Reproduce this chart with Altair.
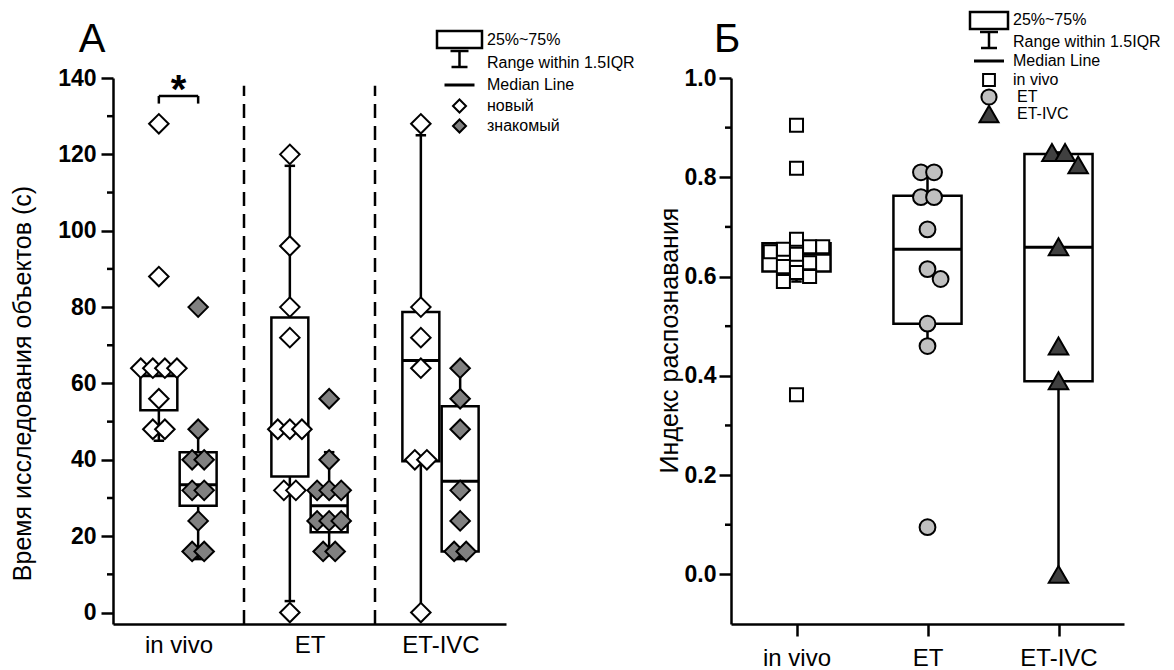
import altair as alt
import pandas as pd

# ---------------- data ----------------
groups = ["in vivo", "ET", "ET-IVC"]
kinds = ["новый", "знакомый"]

# Panel A: exploration time (s)
novel_invivo = [128, 88, 64, 64, 64, 64, 56, 48, 48]
familiar_invivo = [80, 48, 40, 40, 32, 32, 24, 16, 16]
novel_et = [120, 96, 80, 72, 48, 48, 48, 32, 32, 0]
familiar_et = [56, 40, 32, 32, 32, 24, 24, 24, 16, 16]
novel_etivc = [128, 80, 72, 64, 40, 40, 0]
familiar_etivc = [64, 56, 48, 32, 24, 16, 16]

# box statistics, order: (in vivo new, in vivo fam, ET new, ET fam, ET-IVC new, ET-IVC fam)
a_box_q1 = [53, 28, 35.6, 21, 39.6, 16]
a_box_med = [62, 33.5, 49, 28, 66, 34.4]
a_box_q3 = [65, 42, 77.3, 32, 78.7, 54]
a_box_lo = [45, 14, 3, 15.5, 0, 14]
a_box_hi = [65, 48, 117, 42, 125, 64]

# Panel B: recognition index
ri_invivo = [0.905, 0.818, 0.675, 0.66, 0.66, 0.655, 0.65, 0.645, 0.628, 0.62, 0.608, 0.60, 0.59, 0.362]
ri_et = [0.81, 0.81, 0.76, 0.76, 0.695, 0.615, 0.595, 0.505, 0.46, 0.095]
ri_etivc = [0.85, 0.85, 0.825, 0.66, 0.46, 0.39, 0.0]

b_box_q1 = [0.61, 0.505, 0.389]
b_box_med = [0.645, 0.655, 0.659]
b_box_q3 = [0.667, 0.763, 0.847]
b_box_lo = [0.59, 0.46, 0.0]
b_box_hi = [0.675, 0.81, 0.85]

a_ticks = [0, 20, 40, 60, 80, 100, 120, 140]
a_minor = [10, 30, 50, 70, 90, 110, 130]
b_ticks = [0.0, 0.2, 0.4, 0.6, 0.8, 1.0]
b_minor = [0.1, 0.3, 0.5, 0.7, 0.9]

legend_a_labels = ["25%~75%", "Range within 1.5IQR", "Median Line", "новый", "знакомый"]
legend_b_labels = ["25%~75%", "Range within 1.5IQR", "Median Line", "in vivo", "ET", "ET-IVC"]
y_title_a = "Время исследования объектов (с)"
y_title_b = "Индекс распознавания"

# ---------------- layout constants ----------------
FONT = "Liberation Sans"
W, H = 393, 546
SW = 2.5


def swarm(values, tol, step):
    """Spread overlapping points sideways; equal values are laid out symmetrically."""
    distinct = []
    for v in values:
        if v not in distinct:
            distinct.append(v)
    shifts = [0.0]
    for i in range(1, 30):
        shifts += [i * step / 2, -i * step / 2]
    placed = []
    by_val = {}
    for v in distinct:
        n = values.count(v)
        base = [(j - (n - 1) / 2) * step for j in range(n)]
        cand = base
        for s in shifts:
            cand = [b + s for b in base]
            if all(not (abs(v - pv) < tol and abs(c - pc) < step * 0.99)
                   for c in cand for pv, pc in placed):
                break
        for c in cand:
            placed.append((v, c))
        by_val[v] = cand
    used = {}
    offs = []
    for v in values:
        k = used.get(v, 0)
        offs.append(by_val[v][k])
        used[v] = k + 1
    return offs


def label_expr(names):
    expr = f"'{names[-1]}'"
    for i in range(len(names) - 2, -1, -1):
        expr = f"datum.value == {i + 1} ? '{names[i]}' : " + expr
    return expr


# ---------------- panel A tables ----------------
a_series = [novel_invivo, familiar_invivo, novel_et, familiar_et, novel_etivc, familiar_etivc]
KOFF = {"новый": -0.15, "знакомый": 0.15}
HW_A = 0.141
CAP_A = 0.04
rows = []
box_rows = []
for i, vals in enumerate(a_series):
    g = groups[i // 2]
    k = kinds[i % 2]
    center = (i // 2) + 1 + KOFF[k]
    offs = swarm(vals, 4.5, 0.092)
    for v, o in zip(vals, offs):
        rows.append({"grp": g, "kind": k, "value": v, "x": center + o})
    box_rows.append({"grp": g, "kind": k, "x": center, "x1": center - HW_A, "x2": center + HW_A,
                     "c1": center - CAP_A, "c2": center + CAP_A,
                     "q1": a_box_q1[i], "med": a_box_med[i], "q3": a_box_q3[i],
                     "lo": a_box_lo[i], "hi": a_box_hi[i]})
pts_a = pd.DataFrame(rows)
box_a = pd.DataFrame(box_rows)

xs_a = alt.Scale(domain=[0.5, 3.5], nice=False, zero=False)
ys_a = alt.Scale(domain=[-3, 140], nice=False, zero=False)

axis_xa = alt.Axis(values=[1, 2, 3], labelExpr=label_expr(groups), ticks=False, grid=False,
                   domainWidth=SW, domainColor="black", labelFont=FONT, labelFontSize=24,
                   labelColor="black", labelPadding=9, title=None)
axis_ya = alt.Axis(values=a_ticks, format="d", tickSize=12, tickWidth=SW, tickColor="black",
                   domainWidth=SW, domainColor="black", grid=False, labelFont=FONT,
                   labelFontSize=23, labelFontWeight="bold", labelColor="black", labelPadding=5,
                   title=y_title_a, titleFont=FONT, titleFontSize=25, titleFontWeight="normal",
                   titleColor="black", titlePadding=22, titleY=305)


def XA(f):
    return alt.X(f, type="quantitative", scale=xs_a, axis=axis_xa)


def YA(f):
    return alt.Y(f, type="quantitative", scale=ys_a, axis=axis_ya)


sep_a = pd.DataFrame({"x": [1.5, 2.5], "y0": [-3, -3], "y1": [138, 138]})
dashes = alt.Chart(sep_a).mark_rule(color="black", strokeWidth=SW, strokeDash=[14, 8]).encode(
    x=XA("x"), y=YA("y0"), y2="y1")

boxes_a = alt.Chart(box_a).mark_rect(fill="white", stroke="black", strokeWidth=SW).encode(
    x=XA("x1"), x2="x2", y=YA("q1"), y2="q3")
wlo_a = alt.Chart(box_a).mark_rule(color="black", strokeWidth=SW).encode(x=XA("x"), y=YA("lo"), y2="q1")
whi_a = alt.Chart(box_a).mark_rule(color="black", strokeWidth=SW).encode(x=XA("x"), y=YA("q3"), y2="hi")
clo_a = alt.Chart(box_a).mark_rule(color="black", strokeWidth=SW).encode(x=XA("c1"), x2="c2", y=YA("lo"))
chi_a = alt.Chart(box_a).mark_rule(color="black", strokeWidth=SW).encode(x=XA("c1"), x2="c2", y=YA("hi"))
med_a = alt.Chart(box_a).mark_rule(color="black", strokeWidth=3).encode(x=XA("x1"), x2="x2", y=YA("med"))

points_a = alt.Chart(pts_a).mark_point(shape="diamond", filled=True, size=380, stroke="black",
                                       strokeWidth=2, opacity=1).encode(
    x=XA("x"), y=YA("value"),
    fill=alt.Fill("kind:N", scale=alt.Scale(domain=kinds, range=["white", "#808080"]), legend=None))

minor_a = alt.Chart(pd.DataFrame({"v": a_minor})).mark_rule(color="black", strokeWidth=SW).encode(
    x=alt.value(-6), x2=alt.value(0), y=YA("v"))

brk = pd.DataFrame({"x1": [0.85], "x2": [1.15], "y": [135.3], "yb": [133.3]})
brk_h = alt.Chart(brk).mark_rule(color="black", strokeWidth=SW).encode(x=XA("x1"), x2="x2", y=YA("y"))
brk_l = alt.Chart(brk).mark_rule(color="black", strokeWidth=SW).encode(x=XA("x1"), y=YA("yb"), y2="y")
brk_r = alt.Chart(brk).mark_rule(color="black", strokeWidth=SW).encode(x=XA("x2"), y=YA("yb"), y2="y")
star = alt.Chart(pd.DataFrame({"x": [1.0], "y": [133.5], "t": ["*"]})).mark_text(
    font=FONT, fontSize=40, fontWeight="bold", color="black", baseline="alphabetic").encode(
    x=XA("x"), y=YA("y"), text="t:N")

one = pd.DataFrame({"a": [0]})


def txt(s, x, y, size=16, align="left", weight="normal"):
    return alt.Chart(one).mark_text(text=s, font=FONT, fontSize=size, fontWeight=weight,
                                    color="black", align=align, baseline="middle").encode(
        x=alt.value(x), y=alt.value(y))


def legend_layers(x0, x1, top, row_ys, lab_x, labels, symbols, lab_dx=None):
    mid = (x0 + x1) / 2
    lay = [
        alt.Chart(one).mark_rect(fill="white", stroke="black", strokeWidth=SW).encode(
            x=alt.value(x0), x2=alt.value(x1), y=alt.value(top), y2=alt.value(top + 17)),
        alt.Chart(one).mark_rule(color="black", strokeWidth=SW).encode(
            x=alt.value(mid), y=alt.value(top + 20), y2=alt.value(top + 36)),
        alt.Chart(one).mark_rule(color="black", strokeWidth=SW).encode(
            x=alt.value(mid - 9), x2=alt.value(mid + 9), y=alt.value(top + 20)),
        alt.Chart(one).mark_rule(color="black", strokeWidth=SW).encode(
            x=alt.value(mid - 8), x2=alt.value(mid + 8), y=alt.value(top + 36)),
        alt.Chart(one).mark_rule(color="black", strokeWidth=3).encode(
            x=alt.value(mid - 15), x2=alt.value(mid + 15), y=alt.value(row_ys[2])),
    ]
    for (shape, fill, size), yy in zip(symbols, row_ys[3:]):
        lay.append(alt.Chart(one).mark_point(shape=shape, filled=True, fill=fill, stroke="black",
                                             strokeWidth=2, size=size, opacity=1).encode(
            x=alt.value(mid), y=alt.value(yy)))
    if lab_dx is None:
        lab_dx = [0] * len(labels)
    for lab, yy, dx in zip(labels, row_ys, lab_dx):
        lay.append(txt(lab, lab_x + dx, yy))
    return lay


leg_a = legend_layers(324, 369, -47, [-38, -15, 7, 28, 48], 374, legend_a_labels,
                      [("diamond", "white", 170), ("diamond", "#808080", 170)])

title_a = txt("A", -21, -38, size=40, align="center")

panel_a = alt.layer(dashes, boxes_a, wlo_a, whi_a, clo_a, chi_a, med_a, points_a, minor_a,
                    brk_h, brk_l, brk_r, star, title_a, *leg_a).properties(width=W, height=H)

# ---------------- panel B tables ----------------
b_series = [ri_invivo, ri_et, ri_etivc]
HW_B = 0.26
CAP_B = 0.04
rows = []
box_rows = []
for i, vals in enumerate(b_series):
    center = i + 1
    offs = swarm(vals, 0.028, 0.1)
    for v, o in zip(vals, offs):
        rows.append({"grp": groups[i], "value": v, "x": center + o})
    box_rows.append({"grp": groups[i], "x": center, "x1": center - HW_B, "x2": center + HW_B,
                     "c1": center - CAP_B, "c2": center + CAP_B,
                     "q1": b_box_q1[i], "med": b_box_med[i], "q3": b_box_q3[i],
                     "lo": b_box_lo[i], "hi": b_box_hi[i]})
pts_b = pd.DataFrame(rows)
box_b = pd.DataFrame(box_rows)

xs_b = alt.Scale(domain=[0.5, 3.5], nice=False, zero=False)
ys_b = alt.Scale(domain=[-0.1, 1.0], nice=False, zero=False)
axis_xb = alt.Axis(values=[1, 2, 3], labelExpr=label_expr(groups), tickSize=12, tickWidth=SW,
                   tickColor="black", grid=False, domainWidth=SW, domainColor="black",
                   labelFont=FONT, labelFontSize=24, labelColor="black", labelPadding=10, title=None)
axis_yb = alt.Axis(values=b_ticks, format=".1f", tickSize=12, tickWidth=SW, tickColor="black",
                   domainWidth=SW, domainColor="black", grid=False, labelFont=FONT,
                   labelFontSize=23, labelFontWeight="bold", labelColor="black", labelPadding=3,
                   title=y_title_b, titleFont=FONT, titleFontSize=25, titleFontWeight="normal",
                   titleColor="black", titlePadding=2, titleY=262)


def XB(f):
    return alt.X(f, type="quantitative", scale=xs_b, axis=axis_xb)


def YB(f):
    return alt.Y(f, type="quantitative", scale=ys_b, axis=axis_yb)


boxes_b = alt.Chart(box_b).mark_rect(fill="white", stroke="black", strokeWidth=SW).encode(
    x=XB("x1"), x2="x2", y=YB("q1"), y2="q3")
wlo_b = alt.Chart(box_b).mark_rule(color="black", strokeWidth=SW).encode(x=XB("x"), y=YB("lo"), y2="q1")
whi_b = alt.Chart(box_b).mark_rule(color="black", strokeWidth=SW).encode(x=XB("x"), y=YB("q3"), y2="hi")
clo_b = alt.Chart(box_b).mark_rule(color="black", strokeWidth=SW).encode(x=XB("c1"), x2="c2", y=YB("lo"))
chi_b = alt.Chart(box_b).mark_rule(color="black", strokeWidth=SW).encode(x=XB("c1"), x2="c2", y=YB("hi"))
med_b = alt.Chart(box_b).mark_rule(color="black", strokeWidth=3).encode(x=XB("x1"), x2="x2", y=YB("med"))

fills_b = ["white", "#c0c0c0", "#404040"]
shapes_b = ["square", "circle", "triangle-up"]
sizes_b = [170, 250, 380]
pts_layers_b = []
for i, g in enumerate(groups):
    pts_layers_b.append(
        alt.Chart(pts_b[pts_b.grp == g]).mark_point(shape=shapes_b[i], filled=True, fill=fills_b[i],
                                                    size=sizes_b[i], stroke="black", strokeWidth=2,
                                                    opacity=1).encode(x=XB("x"), y=YB("value")))

minor_b = alt.Chart(pd.DataFrame({"v": b_minor})).mark_rule(color="black", strokeWidth=SW).encode(
    x=alt.value(-6), x2=alt.value(0), y=YB("v"))

leg_b = legend_layers(239, 277, -66, [-58, -36, -17, 2, 19, 36], 282, legend_b_labels,
                      [("square", "white", 140), ("circle", "#c0c0c0", 230),
                       ("triangle-up", "#404040", 360)], lab_dx=[0, 0, 0, 0, 4, 4])
title_b = txt("Б", -4, -38, size=40, align="center")

panel_b = alt.layer(boxes_b, wlo_b, whi_b, clo_b, chi_b, med_b, *pts_layers_b, minor_b,
                    title_b, *leg_b).properties(width=W, height=H)

chart = alt.hconcat(panel_a, panel_b, spacing=225, bounds="flush").resolve_scale(
    x="independent", y="independent", fill="independent").properties(
    padding={"left": 10, "top": 10, "right": 5, "bottom": 5}).configure_view(stroke=None)

chart.save("out.html", embed_options={"renderer": "svg", "actions": False})
